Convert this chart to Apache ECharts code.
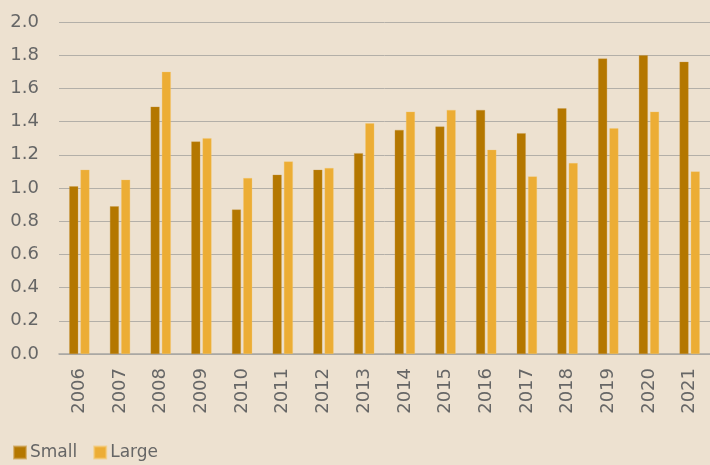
<!DOCTYPE html>
<html>
<head>
<meta charset="utf-8">
<script src="https://cdn.jsdelivr.net/npm/echarts@6/dist/echarts.min.js"></script>
<style>
html,body{margin:0;padding:0;background:#ede1d0;}
#chart{width:710px;height:465px;}
</style>
</head>
<body>
<div id="chart"></div>
<script>
const categories = ['2006','2007','2008','2009','2010','2011','2012','2013','2014','2015','2016','2017','2018','2019','2020','2021'];
const smallValues = [1.01, 0.89, 1.49, 1.28, 0.87, 1.08, 1.11, 1.21, 1.35, 1.37, 1.47, 1.33, 1.48, 1.78, 1.80, 1.76];
const largeValues = [1.11, 1.05, 1.70, 1.30, 1.06, 1.16, 1.12, 1.39, 1.46, 1.47, 1.23, 1.07, 1.15, 1.36, 1.46, 1.10];
const seriesNames = ['Small', 'Large'];

const chart = echarts.init(document.getElementById('chart'), null, {renderer: 'canvas'});
const fontFamily = '"DejaVu Sans", "Liberation Sans", Arial, sans-serif';
const labelColor = '#666666';
chart.setOption({
  backgroundColor: '#ede1d0',
  animation: false,
  textStyle: {fontFamily: fontFamily},
  grid: {left: 59, right: 0, top: 22, bottom: 111},
  legend: {
    left: 13, top: 444, padding: 0,
    itemWidth: 12, itemHeight: 12, itemGap: 16,
    icon: 'rect',
    textStyle: {fontSize: 17, color: labelColor, fontFamily: fontFamily, padding: [0, 0, 0, -1]},
    data: seriesNames
  },
  xAxis: {
    type: 'category',
    data: categories,
    axisLine: {lineStyle: {color: '#a8a6a2', width: 1.5}},
    axisTick: {show: false},
    axisLabel: {rotate: 90, fontSize: 18, color: labelColor, margin: 14, fontFamily: fontFamily}
  },
  yAxis: {
    type: 'value',
    min: 0, max: 2, interval: 0.2,
    axisLine: {show: false},
    axisTick: {show: false},
    axisLabel: {fontSize: 18, color: labelColor, margin: 20, fontFamily: fontFamily,
      formatter: v => v.toFixed(1)},
    splitLine: {lineStyle: {color: '#b3afa8', width: 1}}
  },
  series: [
    {name: seriesNames[0], type: 'bar', data: smallValues, barWidth: 9, barGap: '25%',
      itemStyle: {color: '#b47700', borderColor: 'rgba(200,150,60,0.6)', borderWidth: 0.5}},
    {name: seriesNames[1], type: 'bar', data: largeValues, barWidth: 9,
      itemStyle: {color: '#ecad35', borderColor: 'rgba(245,200,110,0.6)', borderWidth: 0.5}}
  ]
});
</script>
</body>
</html>
